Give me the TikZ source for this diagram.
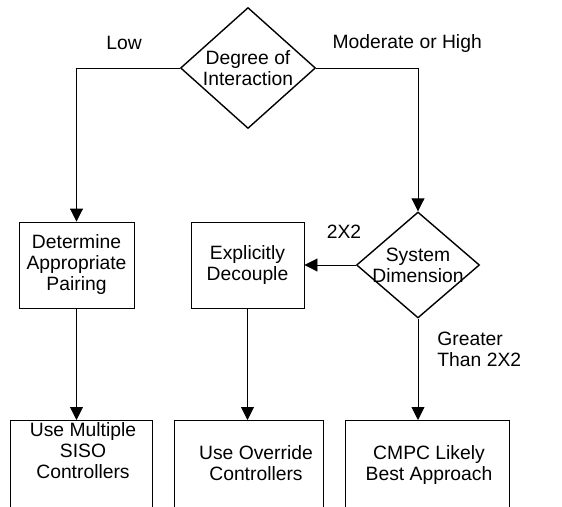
\documentclass[tikz,border=0pt]{standalone}
\usepackage{fontspec}
\setmainfont{Liberation Sans}
\usetikzlibrary{shapes.geometric, positioning, arrows.meta}

\tikzset{
  box/.style = {draw, rectangle, line width=0.9pt, align=center, inner sep=0pt},
  choice/.style = {draw, diamond, line width=1.4pt, align=center, inner sep=-8pt},
  lbl/.style = {inner sep=0pt, align=center},
  flow/.style = {line width=0.9pt, -{Triangle[length=13pt, width=13pt]}}
}

\begin{document}
\begin{tikzpicture}[x=1pt, y=-1pt, font=\fontsize{19.3}{21}\selectfont]
    \clip (0,0) rectangle (562,506);

    \node[choice, minimum width=135pt, minimum height=121pt] (deg) at (248,68) {Degree of\\Interaction};
    \node[box, minimum width=115pt, minimum height=86pt] (pair) at (76.5,265) {Determine\\Appropriate\\Pairing};
    \node[choice, minimum width=123pt, minimum height=106pt] (dim) at (418,265) {System\\Dimension};
    \node[box, minimum width=113pt, minimum height=86pt] (dec) at (247.5,265) {Explicitly\\Decouple};

    % last row runs off the bottom edge
    \node[box, minimum width=142pt, minimum height=120pt, anchor=north] (siso) at (81,420) {};
    \node[box, minimum width=149pt, minimum height=120pt, anchor=north] (over) at (248.5,420) {};
    \node[box, minimum width=164pt, minimum height=120pt, anchor=north] (cmpc) at (427,420) {};
    \node[lbl, below=2pt of siso.north, xshift=2pt] (sisotxt) {Use Multiple\\SISO\\Controllers};
    \node[lbl, below=25pt of over.north, xshift=7.5pt] (overtxt) {Use Override\\Controllers};
    \node[lbl, below=25pt of cmpc.north, xshift=2pt] (cmpctxt) {CMPC Likely\\Best Approach};

    \draw[flow] (deg.west) -| node[lbl, pos=0.27, above=18pt] (low) {Low} (pair.north);
    \draw[flow] (deg.east) -| node[lbl, pos=0.447, above=15pt] (high) {Moderate or High} (dim.north);
    \draw[flow] (dim.west) -- node[lbl, pos=0.23, above=26pt] (two) {2X2} (dec.east);
    \draw[flow] (pair.south) -- (pair.south |- siso.north);
    \draw[flow] (dec.south) -- (dec.south |- over.north);
    \draw[flow] (dim.south) -- node[lbl, pos=0.13, anchor=north west, xshift=19pt, align=left] (big) {Greater\\Than 2X2} (dim.south |- cmpc.north);
  \end{tikzpicture}
\end{document}
